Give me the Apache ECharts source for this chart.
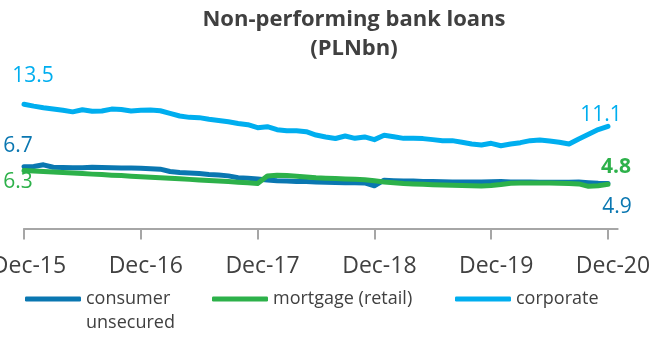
<!DOCTYPE html>
<html>
<head>
<meta charset="utf-8">
<script src="https://cdn.jsdelivr.net/npm/echarts@6/dist/echarts.min.js"></script>
<style>
html,body{margin:0;padding:0;background:#fff;}
#chart{width:654px;height:338px;}
</style>
</head>
<body>
<div id="chart"></div>
<script>
// ---- data (monthly, Dec-15 .. Dec-20) ----
const seriesNames = ['consumer unsecured', 'mortgage (retail)', 'corporate'];
const tickLabels = ['Dec-15', 'Dec-16', 'Dec-17', 'Dec-18', 'Dec-19', 'Dec-20'];
const consumerUnsecured = [6.72, 6.74, 6.92, 6.66, 6.63, 6.6, 6.6, 6.65, 6.63, 6.6,
  6.58, 6.57, 6.55, 6.5, 6.45, 6.2, 6.08, 6.04, 5.97, 5.88,
  5.82, 5.72, 5.52, 5.45, 5.38, 5.28, 5.2, 5.15, 5.12, 5.1,
  5.05, 5.02, 5.0, 4.98, 4.98, 4.95, 4.65, 5.25, 5.2, 5.17,
  5.15, 5.12, 5.1, 5.08, 5.06, 5.05, 5.05, 5.05, 5.08, 5.1,
  5.06, 5.05, 5.05, 5.04, 5.04, 5.03, 5.02, 5.05, 4.98, 4.92,
  4.9];
const mortgageRetail = [6.3, 6.25, 6.2, 6.14, 6.08, 6.03, 5.97, 5.91, 5.86, 5.8,
  5.75, 5.69, 5.63, 5.57, 5.52, 5.46, 5.4, 5.34, 5.28, 5.23,
  5.17, 5.1, 5.03, 4.96, 4.9, 5.7, 5.78, 5.75, 5.68, 5.6,
  5.52, 5.47, 5.43, 5.38, 5.34, 5.3, 5.18, 5.06, 4.98, 4.9,
  4.85, 4.8, 4.75, 4.72, 4.7, 4.67, 4.64, 4.63, 4.68, 4.78,
  4.92, 4.95, 4.95, 4.95, 4.94, 4.93, 4.9, 4.85, 4.58, 4.65,
  4.8];
const corporate = [13.5, 13.3, 13.13, 12.99, 12.85, 12.68, 12.9, 12.75, 12.78, 12.98,
  12.93, 12.78, 12.85, 12.88, 12.8, 12.52, 12.23, 12.08, 12.05, 11.87,
  11.75, 11.6, 11.42, 11.28, 10.96, 11.07, 10.74, 10.63, 10.63, 10.52,
  10.16, 9.95, 9.78, 10.05, 9.8, 9.95, 9.66, 10.13, 9.98, 9.8,
  9.8, 9.77, 9.66, 9.55, 9.55, 9.37, 9.18, 9.08, 9.26, 9.0,
  9.18, 9.33, 9.55, 9.62, 9.51, 9.37, 9.18, 9.73, 10.24, 10.75,
  11.1];

// month categories (one extra month so the axis line runs past Dec-20)
const monthAbbr = ['Jan','Feb','Mar','Apr','May','Jun','Jul','Aug','Sep','Oct','Nov','Dec'];
const categories = [];
for (let k = 0; k < consumerUnsecured.length + 1; k++) {
  const m = (11 + k) % 12;
  const y = 15 + Math.floor((11 + k) / 12);
  categories.push(monthAbbr[m] + '-' + y);
}

const FONT = '"Open Sans", "Noto Sans", sans-serif';
const TEXT = '#404040';
const colors = ['#0A77B1', '#2DB14A', '#00AEEF'];

function buildData(values, color, startCfg, endCfg) {
  const last = values.length - 1;
  return values.map((v, i) => {
    if (i !== 0 && i !== last) return v;
    const cfg = i === 0 ? startCfg : endCfg;
    return {
      value: v,
      symbol: 'circle',
      symbolSize: 2,
      itemStyle: { color: 'rgba(0,0,0,0)', borderWidth: 0 },
      label: {
        show: true,
        position: 'inside',
        offset: cfg.offset,
        formatter: p => Number(p.value).toFixed(1),
        color: color,
        fontFamily: FONT,
        fontSize: 21,
        fontWeight: cfg.bold ? 'bold' : 'normal'
      }
    };
  });
}

const isTick = (i) => i % 12 === 0;

const legendBase = {
  orient: 'horizontal',
  top: 286.5,
  padding: 0,
  itemWidth: 56,
  itemHeight: 5,
  itemGap: 0,
  icon: 'roundRect',
  selectedMode: false,
  textStyle: { color: TEXT, fontFamily: FONT, fontSize: 18, lineHeight: 25 }
};

const option = {
  animation: false,
  backgroundColor: '#ffffff',
  title: {
    text: 'Non-performing bank loans\n(PLNbn)',
    left: 349,
    textAlign: 'center',
    top: 0,
    textStyle: { color: TEXT, fontFamily: FONT, fontSize: 22, fontWeight: 'bold', lineHeight: 29 }
  },
  legend: [
    Object.assign({}, legendBase, {
      left: 25,
      data: [seriesNames[0]],
      formatter: () => 'consumer'
    }),
    Object.assign({}, legendBase, { left: 212, data: [seriesNames[1]] }),
    Object.assign({}, legendBase, { left: 455, data: [seriesNames[2]] })
  ],
  graphic: [{
    type: 'text',
    left: 86,
    top: 314,
    style: { text: 'unsecured', fill: TEXT, font: '18px ' + FONT }
  }],
  grid: { left: 24, right: 36.3, top: 90.5, bottom: 109.5, containLabel: false, outerBoundsMode: 'none' },
  xAxis: {
    type: 'category',
    boundaryGap: false,
    data: categories,
    axisLine: { show: true, lineStyle: { color: '#A6A6A6', width: 2 } },
    axisTick: { show: true, interval: isTick, length: 11, lineStyle: { color: '#A6A6A6', width: 2 } },
    axisLabel: {
      interval: isTick,
      formatter: (v) => tickLabels.indexOf(v) >= 0 ? v : '',
      color: TEXT,
      fontFamily: FONT,
      fontSize: 23,
      margin: 26,
      padding: [0, 0, 0, 10]
    },
    splitLine: { show: false }
  },
  yAxis: {
    type: 'value',
    min: 0,
    max: 15,
    show: false,
    splitLine: { show: false }
  },
  series: [
    {
      name: seriesNames[0], type: 'line', symbol: 'none', showSymbol: true, smooth: false,
      color: colors[0],
      lineStyle: { width: 5, color: colors[0], cap: 'round', join: 'round' },
      data: buildData(consumerUnsecured, colors[0], { offset: [-6, -21] }, { offset: [9, 24] })
    },
    {
      name: seriesNames[1], type: 'line', symbol: 'none', showSymbol: true, smooth: false,
      color: colors[1],
      lineStyle: { width: 5, color: colors[1], cap: 'round', join: 'round' },
      data: buildData(mortgageRetail, colors[1], { offset: [-6, 11] }, { offset: [8, -17], bold: true })
    },
    {
      name: seriesNames[2], type: 'line', symbol: 'none', showSymbol: true, smooth: false,
      color: colors[2],
      lineStyle: { width: 5, color: colors[2], cap: 'round', join: 'round' },
      data: buildData(corporate, colors[2], { offset: [9, -28] }, { offset: [-7, -11] })
    }
  ]
};

const chart = echarts.init(document.getElementById('chart'), null, { renderer: 'canvas' });
chart.setOption(option);
</script>
</body>
</html>
